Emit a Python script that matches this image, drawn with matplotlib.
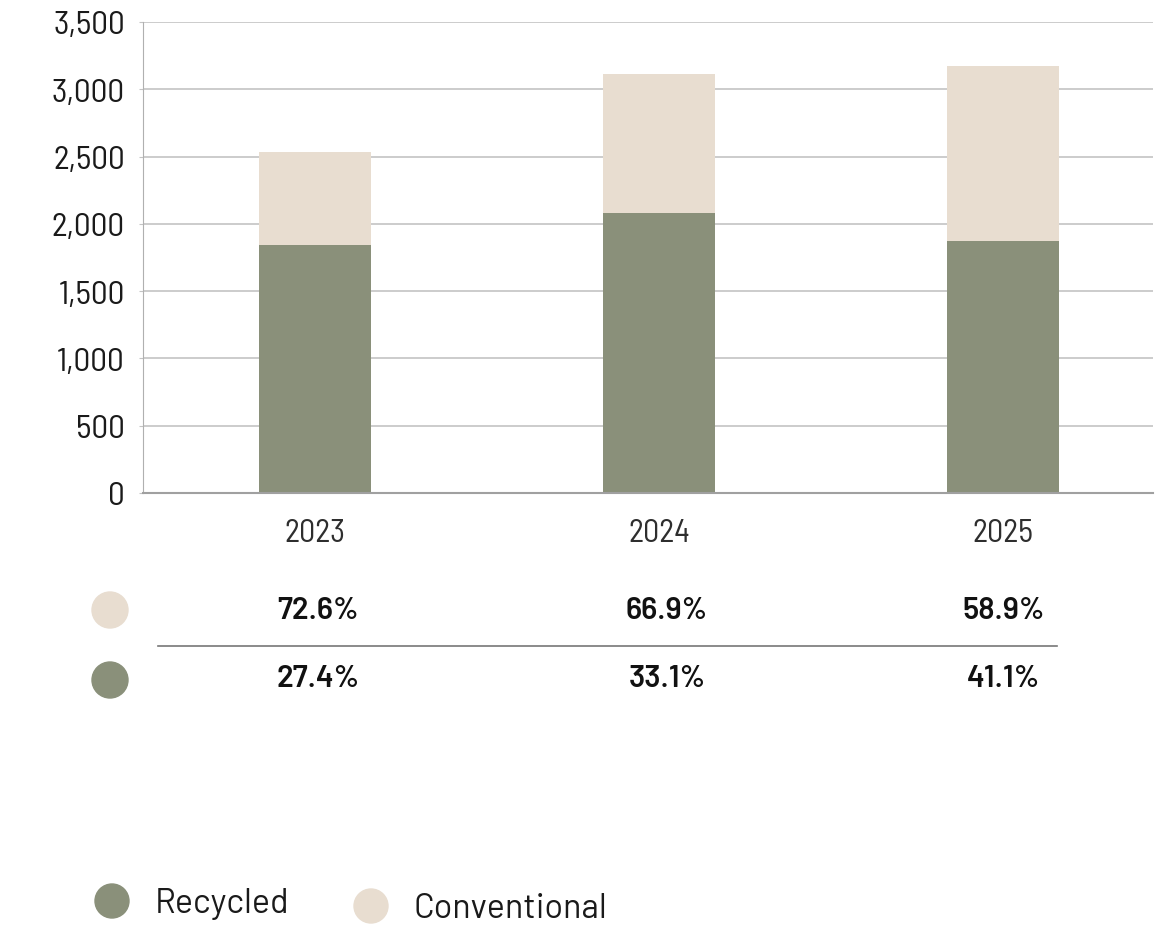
import matplotlib
matplotlib.use("Agg")
import matplotlib.pyplot as plt
from matplotlib.patches import Circle
from matplotlib.ticker import FuncFormatter

SEMI = ['Barlow Semi Condensed', 'Barlow', 'DejaVu Sans']
WIDE = ['Barlow', 'DejaVu Sans']
plt.rcParams['font.family'] = SEMI

# data
years = ['2023', '2024', '2025']
recycled = [1842, 2080, 1872]
conventional = [691, 1033, 1300]
conv_share = ['72.6%', '66.9%', '58.9%']
recy_share = ['27.4%', '33.1%', '41.1%']

C_REC = '#8A907A'
C_CON = '#E8DDD0'
C_GRID = '#C4C4C4'

W, H = 1174, 928
fig = plt.figure(figsize=(W / 100, H / 100), dpi=100)

# main bar axes (pixel box: x 143..1153, y 23..494)
ax = fig.add_axes([143 / W, 1 - 494 / H, 1010 / W, 471 / H])
x = range(len(years))
ax.bar(x, recycled, width=0.323, color=C_REC, zorder=2)
ax.bar(x, conventional, width=0.323, bottom=recycled, color=C_CON, zorder=2)

ax.set_xlim(-0.5, 2.436)
ax.set_ylim(0, 3500)
ax.set_yticks(range(0, 3501, 500))
ax.yaxis.set_major_formatter(FuncFormatter(lambda v, p: f"{int(v):,}"))
ax.set_xticks(list(x))
ax.set_xticklabels(years)
ax.grid(axis='y', color=C_GRID, linewidth=1.2, zorder=0)
for s in ['top', 'right']:
    ax.spines[s].set_visible(False)
ax.spines['left'].set_color('#B0B0B0')
ax.spines['bottom'].set_color('#A0A0A0')
ax.spines['bottom'].set_linewidth(1.5)
ax.tick_params(axis='y', length=3, color=C_GRID, pad=10, labelsize=24, labelcolor='#1a1a1a')
ax.tick_params(axis='x', length=0, pad=18, labelsize=23, labelcolor='#2e2e2e')

# overlay in pixel coordinates for the share table and legend
ov = fig.add_axes([0, 0, 1, 1])
ov.set_xlim(0, W)
ov.set_ylim(H, 0)
ov.axis('off')

centers = [318, 667, 1004]
ov.add_patch(Circle((110, 611), 18, color=C_CON))
ov.add_patch(Circle((110, 681), 18, color=C_REC))
for cx, a, b in zip(centers, conv_share, recy_share):
    ov.text(cx, 611, a, ha='center', va='center', fontsize=22, fontweight='semibold',
            family=WIDE, color='#111111')
    ov.text(cx, 679, b, ha='center', va='center', fontsize=22, fontweight='semibold',
            family=WIDE, color='#111111')
ov.plot([158, 1057], [647, 647], color='#777777', linewidth=1.2)

ov.add_patch(Circle((112, 902), 17, color=C_REC))
ov.text(155, 904, 'Recycled', ha='left', va='center', fontsize=24.5, family=WIDE, color='#1a1a1a')
ov.add_patch(Circle((371, 907), 17, color=C_CON))
ov.text(413, 909, 'Conventional', ha='left', va='center', fontsize=24.5, family=WIDE, color='#1a1a1a')

fig.savefig('out.png', dpi=100)
